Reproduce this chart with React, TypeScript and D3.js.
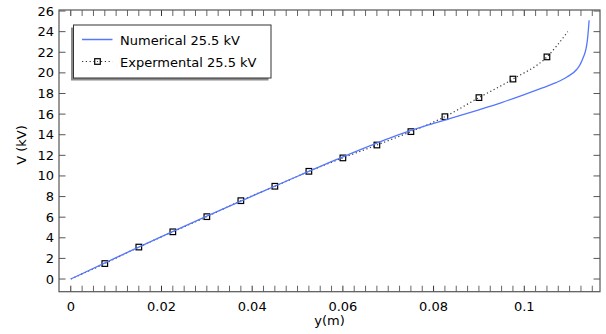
import React from "react";
import * as d3 from "d3";

// Numerical solution: voltage (kV) along y (m)
const numY = [0, 0.01, 0.02, 0.03, 0.04, 0.05, 0.06, 0.07, 0.075, 0.08, 0.085, 0.09, 0.095, 0.1, 0.104, 0.107, 0.1094, 0.1116, 0.1123, 0.113, 0.1136, 0.1139, 0.1141, 0.1143];
const numV = [0, 2.08, 4.12, 6.1, 8.05, 9.97, 11.85, 13.62, 14.42, 15.1, 15.75, 16.42, 17.12, 17.9, 18.55, 19.05, 19.6, 20.35, 20.8, 21.5, 22.3, 23.1, 24.0, 25.1];

// Experimental measurements
const expY = [0, 0.0075, 0.015, 0.0225, 0.03, 0.0375, 0.045, 0.0525, 0.06, 0.0675, 0.075, 0.0825, 0.09, 0.0975, 0.105, 0.1096];
const expV = [0, 1.5, 3.1, 4.58, 6.05, 7.6, 9.0, 10.45, 11.75, 13.0, 14.3, 15.75, 17.6, 19.4, 21.55, 24.0];

const yTicks = [0, 2, 4, 6, 8, 10, 12, 14, 16, 18, 20, 22, 24, 26];
const xMajorTicks = [0, 0.02, 0.04, 0.06, 0.08, 0.1];
const xTickLabels = ["0", "0.02", "0.04", "0.06", "0.08", "0.1"];
const legendLabels = ["Numerical 25.5 kV", "Expermental 25.5 kV"];

const W = 606;
const H = 334;
const L = 59, R = 600, T = 10, B = 291.7;
const FONT = "DejaVu Sans, sans-serif";
const AXIS = "#555";

export default function App() {
  const x = d3.scaleLinear().domain([-0.0026, 0.1167]).range([L, R]);
  const y = d3.scaleLinear().domain([-1.23, 26.1]).range([B, T]);

  const minorTicks = d3.range(0, 47).map((i) => i * 0.0025);

  const numLine = d3
    .line<number>()
    .x((_, i) => x(numY[i]))
    .y((d) => y(d))
    .curve(d3.curveMonotoneX)(numV) as string;

  const expLine = d3
    .line<number>()
    .x((_, i) => x(expY[i]))
    .y((d) => y(d))
    .curve(d3.curveMonotoneX)(expV) as string;

  const markerIdx = expY.map((_, i) => i).filter((i) => i > 0 && i < expY.length - 1);

  const lgX = 73.5, lgY = 25, lgW = 197.5, lgH = 53;
  const ms = 5.6;

  return (
    <svg
      width={W}
      height={H}
      style={{ position: "fixed", left: 0, top: 0, background: "#fff" }}
      fontFamily={FONT}
    >
      <rect x={0} y={0} width={W} height={H} fill="#fff" />
      <defs>
        <clipPath id="plotArea">
          <rect x={L} y={T} width={R - L} height={B - T} />
        </clipPath>
      </defs>

      {/* x ticks, bottom and top */}
      {minorTicks.map((t, i) => {
        const px = x(t);
        const major = xMajorTicks.some((m) => Math.abs(m - t) < 1e-9);
        return (
          <g key={"xt" + i} stroke={major ? "#333" : "#666"} strokeWidth={1}>
            <line x1={px} x2={px} y1={B} y2={B - 6} />
            <line x1={px} x2={px} y1={T} y2={T + 6} />
          </g>
        );
      })}

      {/* y ticks, left and right */}
      {yTicks.map((t) => (
        <g key={"yt" + t} stroke={AXIS} strokeWidth={1}>
          <line x1={L} x2={L + 6.5} y1={y(t)} y2={y(t)} />
          <line x1={R} x2={R - 6.5} y1={y(t)} y2={y(t)} />
        </g>
      ))}

      {/* frame */}
      <rect x={L} y={T} width={R - L} height={B - T} fill="none" stroke={AXIS} strokeWidth={1.2} />

      {/* tick labels */}
      {yTicks.map((t) => (
        <text key={"yl" + t} x={54} y={y(t)} dy="0.35em" textAnchor="end" fontSize={13} fill="#000">
          {t}
        </text>
      ))}
      {xMajorTicks.map((t, i) => (
        <text key={"xl" + i} x={x(t)} y={311} textAnchor="middle" fontSize={13} fill="#000">
          {xTickLabels[i]}
        </text>
      ))}

      {/* axis titles */}
      <text x={(L + R) / 2} y={325} textAnchor="middle" fontSize={13} fill="#000">
        y(m)
      </text>
      <text
        transform={`translate(25.5, 145) rotate(-90)`}
        textAnchor="middle"
        fontSize={13}
        fill="#000"
      >
        V (kV)
      </text>

      <g clipPath="url(#plotArea)">
        {/* experimental: dotted line with square markers */}
        <path d={expLine} fill="none" stroke="#333" strokeWidth={1.2} strokeDasharray="1.2 2.6" />
        {markerIdx.map((i) => (
          <rect
            key={"m" + i}
            x={x(expY[i]) - ms / 2}
            y={y(expV[i]) - ms / 2}
            width={ms}
            height={ms}
            fill="none"
            stroke="#000"
            strokeWidth={1.2}
          />
        ))}
        {/* numerical solution */}
        <path d={numLine} fill="none" stroke="#5577ff" strokeWidth={1.3} />
      </g>

      {/* legend */}
      <rect x={lgX - 2.5} y={lgY + 2.5} width={lgW} height={lgH} fill="#8a8a8a" />
      <rect x={lgX} y={lgY} width={lgW} height={lgH} fill="#fff" stroke="#333" strokeWidth={1} />
      <line x1={82} x2={112.5} y1={39.5} y2={39.5} stroke="#5577ff" strokeWidth={1.5} />
      <line x1={82} x2={112.5} y1={61.5} y2={61.5} stroke="#333" strokeWidth={1.2} strokeDasharray="1.2 2.6" />
      <rect x={94.7} y={58.7} width={ms} height={ms} fill="#fff" stroke="#000" strokeWidth={1.2} />
      <circle cx={97.5} cy={61.5} r={0.6} fill="#333" />
      <text x={120} y={44.5} fontSize={13} fill="#000">
        {legendLabels[0]}
      </text>
      <text x={120} y={66.5} fontSize={13} fill="#000">
        {legendLabels[1]}
      </text>
    </svg>
  );
}
